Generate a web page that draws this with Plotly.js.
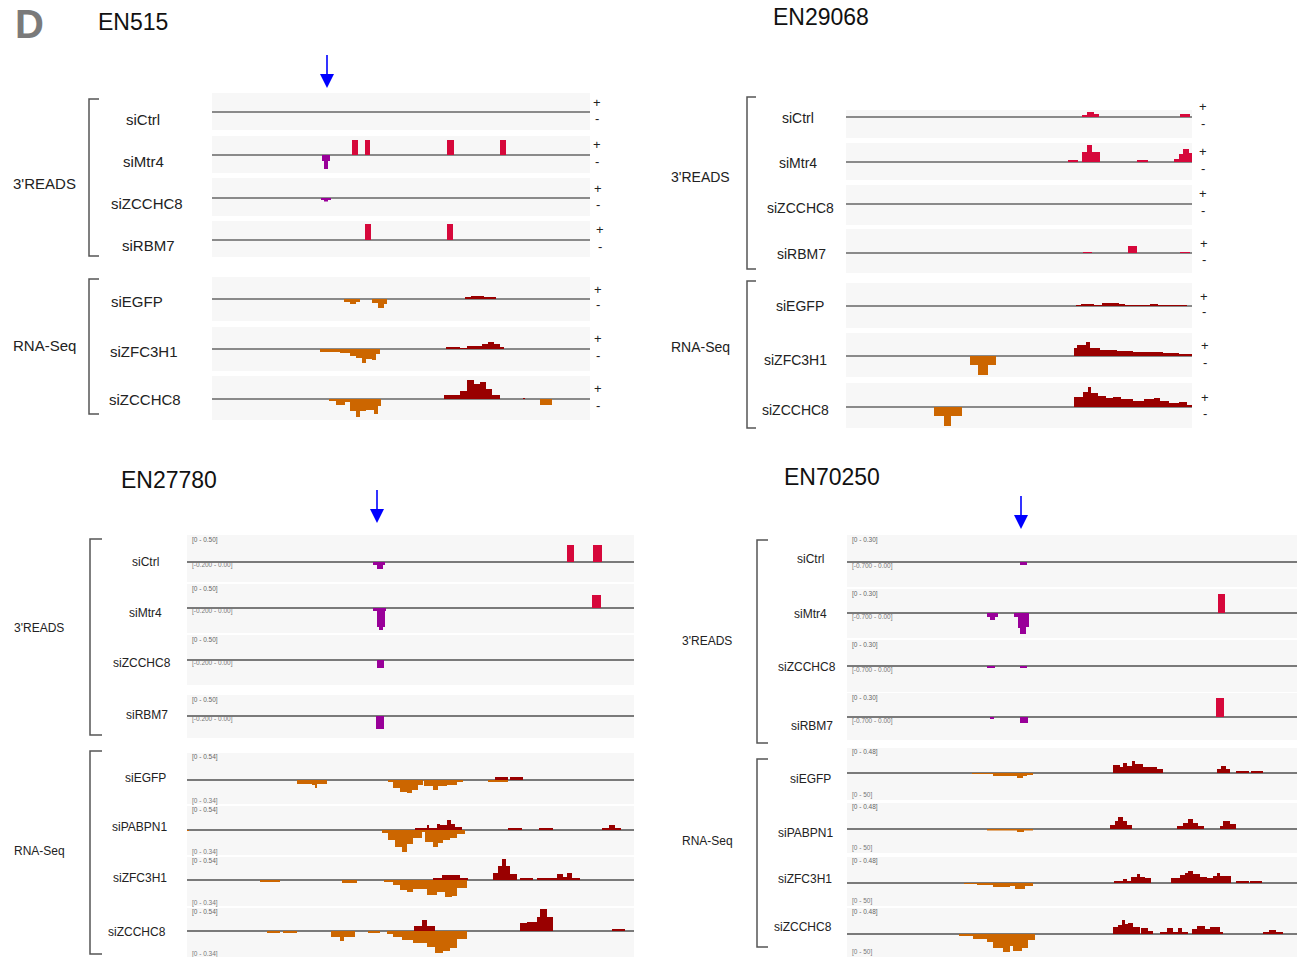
<!DOCTYPE html>
<html><head><meta charset="utf-8">
<script src="https://cdn.plot.ly/plotly-3.0.1.min.js"></script>
<style>html,body{margin:0;padding:0;background:#fff;}</style>
</head><body>
<div id="chart" style="width:1297px;height:957px"></div>
<script>
// ---------------- DATA ----------------
// segments: [start, end, coverage] along each locus (relative position units)
const panelNames = ['EN515', 'EN29068', 'EN27780', 'EN70250'];
const groupNames = ["3'READS", 'RNA-Seq'];

const EN515_tracks = ['siCtrl', 'siMtr4', 'siZCCHC8', 'siRBM7', 'siEGFP', 'siZFC3H1', 'siZCCHC8'];
const EN515_kinds = [0, 0, 0, 0, 1, 1, 1];
const EN515_plus = [
  [],
  [[140,146,15],[153,158,15],[235,242,15],[288,294,15]],
  [],
  [[153,159,16],[235,241,16]],
  [[253,259,2],[259,272,3],[272,284,2]],
  [[234,248,2],[248,255,1],[255,270,3],[270,276,5],[276,282,7],[282,288,5],[288,292,2]],
  [[232,248,4],[248,255,8],[255,262,19],[262,268,15],[268,274,17],[274,280,10],[280,288,4],[311,313,1]]
];
const EN515_minus = [
  [],
  [[110,112,6],[112,116,14],[116,118,6]],
  [[109,112,2],[112,116,3.5],[116,119,2]],
  [],
  [[132,138,3],[138,144,5],[144,148,3],[160,166,4],[166,172,9],[172,175,5]],
  [[108,128,3],[128,138,4],[138,144,7],[144,150,9],[150,154,14],[154,160,10],[160,164,11],[164,168,5]],
  [[117,124,2],[124,133,6],[133,138,3],[138,144,12],[144,148,18],[148,154,12],[154,162,11],[162,166,15],[166,169,7],[328,340,6]]
];

const EN29068_tracks = ['siCtrl', 'siMtr4', 'siZCCHC8', 'siRBM7', 'siEGFP', 'siZFC3H1', 'siZCCHC8'];
const EN29068_kinds = [0, 0, 0, 0, 1, 1, 1];
const EN29068_plus = [
  [[236,241,2],[241,248,5],[248,253,3],[334,344,3]],
  [[222,232,2],[236,241,10],[241,246,17],[246,254,10],[291,302,2],[328,333,3],[333,337,8],[337,343,13],[343,346,9]],
  [],
  [[237,246,1],[282,291,7],[334,344,1]],
  [[230,235,1],[235,248,2],[248,256,1],[256,273,3],[273,279,2],[279,283,1],[283,304,1],[304,312,2],[312,341,1]],
  [[228,231,8],[231,240,11],[240,244,14],[244,254,8],[254,271,6],[271,287,5],[287,304,4],[304,317,4],[317,333,3],[333,346,2]],
  [[228,237,10],[237,242,15],[242,245,20],[245,252,14],[252,260,11],[260,267,9],[267,275,10],[275,287,8],[287,298,6],[298,308,8],[308,314,9],[314,323,6],[323,333,4],[333,341,5],[341,346,2]]
];
const EN29068_minus = [
  [], [], [], [], [],
  [[124,132,9],[132,142,19],[142,150,9]],
  [[88,98,9],[98,105,19],[105,116,9]]
];

const EN27780_tracks = ['siCtrl', 'siMtr4', 'siZCCHC8', 'siRBM7', 'siEGFP', 'siPABPN1', 'siZFC3H1', 'siZCCHC8'];
const EN27780_kinds = [0, 0, 0, 0, 1, 1, 1, 1];
const EN27780_scale = ['[0 - 0.50]', '[-0.200 - 0.00]', '[0 - 0.54]', '[0 - 0.34]'];
const EN27780_plus = [
  [[380,387,17],[406,415,17]],
  [[405,414,13]],
  [],
  [],
  [[308,321,3],[323,336,3]],
  [[228,240,2],[240,242,5],[242,250,2],[250,253,6],[253,260,5],[260,264,10],[264,268,6],[268,275,3],[321,335,2],[352,366,2],[415,422,2],[422,428,5],[428,434,2]],
  [[246,255,2],[255,260,5],[260,273,5],[273,281,2],[306,311,7],[311,315,14],[315,319,21],[319,323,14],[323,330,6],[333,346,2],[350,370,2],[370,376,6],[376,380,3],[380,385,7],[385,393,2]],
  [[227,235,5],[235,240,11],[240,248,5],[333,340,8],[340,350,9],[350,353,14],[353,360,22],[360,366,14],[425,438,2]]
];
const EN27780_minus = [
  [[186,190,3],[190,196,7],[196,198,3]],
  [[186,190,3],[190,192,19],[192,196,22],[196,198,19],[198,199,3]],
  [[190,197,8]],
  [[189,197,13]],
  [[110,125,4],[125,128,5],[128,130,8],[130,140,4],[201,206,2],[206,213,8],[213,220,12],[220,225,13],[225,231,10],[231,236,5],[237,246,6],[246,251,10],[251,260,6],[260,270,5],[270,276,2],[301,321,2]],
  [[0,2,1],[195,201,3],[201,208,10],[208,215,17],[215,220,22],[220,226,14],[226,235,8],[235,238,2],[238,246,12],[246,251,17],[251,256,13],[256,263,10],[263,270,8],[270,278,4]],
  [[73,93,2],[155,170,3],[197,206,2],[206,213,5],[213,220,10],[220,226,12],[226,240,9],[240,250,15],[250,258,12],[258,265,17],[265,270,16],[270,280,8]],
  [[80,93,2],[96,110,2],[144,153,6],[153,157,10],[157,168,6],[181,193,2],[200,206,3],[206,215,6],[215,226,9],[226,240,12],[240,248,16],[248,256,22],[256,263,20],[263,270,17],[270,280,8]]
];

const EN70250_tracks = ['siCtrl', 'siMtr4', 'siZCCHC8', 'siRBM7', 'siEGFP', 'siPABPN1', 'siZFC3H1', 'siZCCHC8'];
const EN70250_kinds = [0, 0, 0, 0, 1, 1, 1, 1];
const EN70250_scale = ['[0 - 0.30]', '[-0.700 - 0.00]', '[0 - 0.48]', '[0 - 50]'];
const EN70250_plus = [
  [],
  [[371,378,19]],
  [],
  [[369,377,19]],
  [[266,273,8],[273,276,6],[276,280,10],[280,285,7],[285,288,12],[288,296,9],[296,303,6],[303,310,6],[310,316,4],[370,374,4],[374,379,7],[379,383,4],[389,402,2],[404,416,2]],
  [[263,268,4],[268,271,8],[271,276,12],[276,280,8],[280,285,4],[330,336,3],[336,341,6],[341,346,10],[346,351,6],[351,357,3],[373,376,3],[376,383,8],[383,389,5]],
  [[267,276,2],[276,280,4],[280,284,2],[284,290,6],[290,293,9],[293,298,6],[298,304,5],[324,333,5],[333,338,8],[338,341,10],[341,346,12],[346,353,9],[353,360,6],[360,366,5],[366,370,7],[370,373,10],[373,384,7],[389,402,2],[403,415,2]],
  [[266,271,7],[271,275,9],[275,278,14],[278,281,10],[281,286,11],[286,293,7],[294,301,6],[301,306,3],[313,320,2],[320,326,6],[326,331,2],[331,335,6],[335,341,2],[345,350,5],[350,358,8],[358,363,5],[363,373,7],[373,376,2],[416,422,2],[422,429,4],[429,436,2]]
];
const EN70250_minus = [
  [[173,180,3]],
  [[140,143,4],[143,148,7],[148,151,4],[167,171,4],[171,173,15],[173,179,21],[179,182,14]],
  [[140,148,2],[173,180,2]],
  [[143,147,2],[173,181,6]],
  [[125,146,1],[146,165,3],[165,170,3],[170,176,5],[176,180,3],[180,186,2]],
  [[140,170,1.5],[170,177,3],[177,186,1.5]],
  [[117,130,1],[130,146,2],[146,163,4],[163,168,3],[168,178,6],[178,186,3]],
  [[112,126,2],[126,140,5],[140,146,8],[146,156,14],[156,163,18],[163,166,12],[166,175,17],[175,181,14],[181,188,6]]
];

// ---------------- LAYOUT CONFIG (pixel geometry) ----------------
const W = 1297, H = 957;
const fx = p => p / W, fy = p => 1 - p / H;
const FONT = 'Liberation Sans, Arial, sans-serif';
const COLORS = { plus: ['#D6083B', '#990000'], minus: ['#990099', '#CC6600'] };

const panels = [
  { name: panelNames[0], tracks: EN515_tracks, kinds: EN515_kinds, plus: EN515_plus, minus: EN515_minus,
    x0: 212, len: 378, lineCol: '#8a8a8a',
    rows: [[93,112,130],[136,155,173],[178,198,216],[221,240,257],[277,299,321],[327,349,371],[376,399,420]],
    lx: [143,143,147,148,137,144,145], ly: [119,161,203,245,301,351,399], lsize: 15,
    gx: 44, gy: [183,345], gsize: 15, bx: 89, btick: 99, bspans: [[99,256],[279,414]],
    signX: [597,597,598,600,598,598,598], title: { x: 133, y: 22 }, arrow: { x: 327, y0: 55, y1: 88 } },
  { name: panelNames[1], tracks: EN29068_tracks, kinds: EN29068_kinds, plus: EN29068_plus, minus: EN29068_minus,
    x0: 846, len: 346, lineCol: '#8a8a8a',
    rows: [[110,117,138],[143,162,180],[185,204,225],[229,253,273],[283,306,328],[333,356,377],[383,407,428]],
    lx: [798,798,800,801,800,795,795], ly: [118,163,208,254,306,360,410], lsize: 14,
    gx: 700, gy: [177,347], gsize: 14, bx: 747, btick: 756, bspans: [[97,269],[281,428]],
    signX: [1203,1203,1203,1204,1204,1205,1205], title: { x: 821, y: 17 }, arrow: null },
  { name: panelNames[2], tracks: EN27780_tracks, kinds: EN27780_kinds, plus: EN27780_plus, minus: EN27780_minus,
    scale: EN27780_scale, scaleOff: [5, 3, 4, -3],
    x0: 187, len: 447, lineCol: '#7a7a7a',
    rows: [[535,562,582],[584,608,633],[635,660,685],[695,716,738],[753,780,804],[806,830,855],[857,880,906],[908,931,957]],
    lx: [145,145,142,147,145,139,140,137], ly: [562,613,663,715,778,827,878,932], lsize: 12,
    gx: 39, gy: [628,851], gsize: 12, bx: 90, btick: 102, bspans: [[539,735],[751,954]],
    signX: null, title: { x: 169, y: 480 }, arrow: { x: 377, y0: 490, y1: 523 } },
  { name: panelNames[3], tracks: EN70250_tracks, kinds: EN70250_kinds, plus: EN70250_plus, minus: EN70250_minus,
    scale: EN70250_scale, scaleOff: [5, 4, 4, -5],
    x0: 847, len: 450, lineCol: '#7a7a7a',
    rows: [[535,562,587],[589,613,638],[640,666,692],[693,717,740],[748,773,800],[803,829,853],[857,883,906],[908,934,957]],
    lx: [810,810,807,812,810,805,805,803], ly: [559,614,667,726,779,833,879,927], lsize: 12,
    gx: 707, gy: [641,841], gsize: 12, bx: 757, btick: 768, bspans: [[540,743],[759,947]],
    signX: null, title: { x: 832, y: 477 }, arrow: { x: 1021, y0: 496, y1: 529 } }
];

// ---------------- BUILD ----------------
const data = [];
const annotations = [];
const shapes = [];
const layout = {
  width: W, height: H, margin: { l: 0, r: 0, t: 0, b: 0 },
  paper_bgcolor: '#ffffff', plot_bgcolor: '#F7F7F7',
  barmode: 'overlay', showlegend: false, font: { family: FONT, color: '#222' }
};

function txt(x, y, text, size, opts) {
  annotations.push(Object.assign({ xref: 'paper', yref: 'paper', x: fx(x), y: fy(y), text: text,
    showarrow: false, xanchor: 'center', yanchor: 'middle', font: { family: FONT, size: size, color: '#222' } }, opts || {}));
}

// panel letter
txt(29, 24, '<b>D</b>', 40, { font: { family: FONT, size: 40, color: '#7a7a7a' } });

let k = 0;
panels.forEach(p => {
  txt(p.title.x, p.title.y, p.name, 23, { font: { family: FONT, size: 23, color: '#111' } });
  if (p.arrow) {
    const a = p.arrow;
    shapes.push({ type: 'line', xref: 'paper', yref: 'paper', x0: fx(a.x), x1: fx(a.x), y0: fy(a.y0), y1: fy(a.y1 - 12),
      line: { color: '#0000FF', width: 1.6 } });
    shapes.push({ type: 'path', xref: 'paper', yref: 'paper',
      path: `M ${fx(a.x - 7)},${fy(a.y1 - 14)} L ${fx(a.x + 7)},${fy(a.y1 - 14)} L ${fx(a.x)},${fy(a.y1)} Z`,
      fillcolor: '#0000FF', line: { color: '#0000FF', width: 0 } });
  }
  // brackets & group labels
  p.bspans.forEach((s, g) => {
    shapes.push({ type: 'path', xref: 'paper', yref: 'paper',
      path: `M ${fx(p.btick)},${fy(s[0])} L ${fx(p.bx)},${fy(s[0])} L ${fx(p.bx)},${fy(s[1])} L ${fx(p.btick)},${fy(s[1])}`,
      line: { color: '#555', width: 1.5 } });
    txt(p.gx, p.gy[g], groupNames[g], p.gsize);
  });

  p.tracks.forEach((name, i) => {
    k++;
    const sfx = k === 1 ? '' : String(k);
    const [top, base, bot] = p.rows[i];
    const kind = p.kinds[i];
    layout['xaxis' + sfx] = { domain: [fx(p.x0), fx(p.x0 + p.len)], range: [0, p.len], visible: false,
      fixedrange: true, anchor: 'y' + sfx };
    layout['yaxis' + sfx] = { domain: [fy(bot), fy(top)], range: [-(bot - base), base - top], anchor: 'x' + sfx,
      showgrid: false, showticklabels: false, ticks: '', showline: false, fixedrange: true,
      zeroline: true, zerolinecolor: p.lineCol, zerolinewidth: 1.6 };
    // placeholder so every track (even an empty one) gets its subplot, background and baseline
    data.push({ type: 'scatter', mode: 'none', xaxis: 'x' + sfx, yaxis: 'y' + sfx, x: [0], y: [0], hoverinfo: 'skip' });
    const pl = p.plus[i], mi = p.minus[i];
    [[pl, 1, COLORS.plus[kind]], [mi, -1, COLORS.minus[kind]]].forEach(([segs, sign, col]) => {
      if (!segs.length) return;
      data.push({ type: 'bar', xaxis: 'x' + sfx, yaxis: 'y' + sfx,
        x: segs.map(s => (s[0] + s[1]) / 2), y: segs.map(s => sign * s[2]), width: segs.map(s => s[1] - s[0]),
        marker: { color: col, line: { width: 0 } }, hoverinfo: 'skip' });
    });
    txt(p.lx[i], p.ly[i], name, p.lsize);
    if (p.signX) {
      txt(p.signX[i], base - 10, '+', 13);
      txt(p.signX[i], base + 6, '-', 13);
    }
    if (p.scale) {
      const g = kind * 2;
      txt(p.x0 + 3, top + p.scaleOff[kind * 2], p.scale[g], 6.5,
        { xanchor: 'left', font: { family: FONT, size: 6.5, color: '#666' } });
      const by = kind === 0 ? base + p.scaleOff[1] : bot + p.scaleOff[3];
      txt(p.x0 + 3, by, p.scale[g + 1], 6.5,
        { xanchor: 'left', font: { family: FONT, size: 6.5, color: '#777' } });
    }
  });
});

layout.annotations = annotations;
layout.shapes = shapes;
Plotly.newPlot('chart', data, layout, { displayModeBar: false, staticPlot: true });
</script>
</body></html>
